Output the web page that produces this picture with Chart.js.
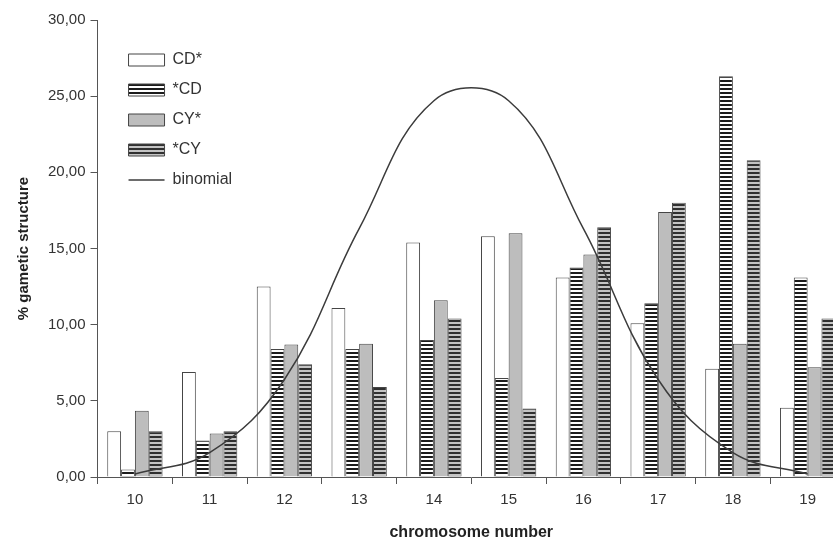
<!DOCTYPE html>
<html>
<head>
<meta charset="utf-8">
<script src="https://cdn.jsdelivr.net/npm/chart.js@4.4.1/dist/chart.umd.min.js"></script>
<style>
    html, body { margin: 0; padding: 0; overflow: hidden; background: #fff; }
</style>
</head>
<body>
<canvas id="chart" width="850" height="541"></canvas>
<script>
// chromosome classes on the x axis
const chromosomes = ["10", "11", "12", "13", "14", "15", "16", "17", "18", "19"];

// % gametic structure per series
const cdStar = [3.0, 6.9, 12.5, 11.1, 15.4, 15.8, 13.1, 10.1, 7.1, 4.55];
const starCd = [0.5, 2.4, 8.4, 8.4, 9.0, 6.5, 13.75, 11.4, 26.3, 13.1];
const cyStar = [4.35, 2.85, 8.7, 8.75, 11.6, 16.0, 14.6, 17.4, 8.75, 7.2];
const starCy = [3.0, 3.0, 7.4, 5.9, 10.4, 4.5, 16.4, 18.0, 20.8, 10.4];
const binomial = [0.2, 1.6, 6.4, 16.3, 24.7, 24.7, 16.3, 6.4, 1.6, 0.2];

const seriesLabels = ["CD*", "*CD", "CY*", "*CY", "binomial"];

const FONT = "'Liberation Sans', Arial, sans-serif";

/*
    Horizontal stripe fill used by the hatched bars
*/
function stripes(bg, line) {
    const c = document.createElement("canvas");
    c.width = 4;
    c.height = 4;
    const g = c.getContext("2d");
    g.fillStyle = bg;
    g.fillRect(0, 0, 4, 4);
    g.fillStyle = line;
    g.fillRect(0, 0, 4, 2);
    return g.createPattern(c, "repeat");
}

function barSet(label, data, fill) {
    return {
        type: "bar",
        label: label,
        data: data,
        backgroundColor: fill,
        borderColor: "#454545",
        borderWidth: 1,
        pointStyle: "rect",
        order: 1
    };
}

// moves the legend into the upper left corner of the plot
const legendPlace = {
    id: "legendPlace",
    afterLayout(chart) {
        chart.legend.left = chart.chartArea.left + 17;
        chart.legend.top = chart.chartArea.top + 18;
    }
};

const ctx = document.getElementById("chart");
new Chart(ctx, {
    data: {
        labels: chromosomes,
        datasets: [
            barSet(seriesLabels[0], cdStar, "#ffffff"),
            barSet(seriesLabels[1], starCd, stripes("#ffffff", "#1c1c1c")),
            barSet(seriesLabels[2], cyStar, "#bdbdbd"),
            barSet(seriesLabels[3], starCy, stripes("#c4c4c4", "#303030")),
            {
                type: "line",
                label: seriesLabels[4],
                data: binomial,
                borderColor: "#3c3c3c",
                borderWidth: 1.5,
                pointRadius: 0,
                pointStyle: "line",
                tension: 0.4,
                fill: false,
                order: 0
            }
        ]
    },
    options: {
        responsive: false,
        animation: false,
        layout: { padding: { left: 0, right: 5, top: 20, bottom: 0 } },
        datasets: { bar: { categoryPercentage: 0.74, barPercentage: 1.0 } },
        plugins: {
            tooltip: { enabled: false },
            legend: {
                position: "chartArea",
                align: "start",
                labels: {
                    usePointStyle: true,
                    pointStyleWidth: 36,
                    boxHeight: 12,
                    padding: 14,
                    color: "#333",
                    font: { family: FONT, size: 16 },
                    sort: (a, b) => a.datasetIndex - b.datasetIndex
                }
            }
        },
        scales: {
            x: {
                grid: { drawOnChartArea: false, tickLength: 7, color: "#555" },
                border: { color: "#555" },
                ticks: { color: "#333", padding: 7, font: { family: FONT, size: 15 } },
                title: {
                    display: true,
                    text: "chromosome number",
                    color: "#222",
                    padding: { top: 9, bottom: 0 },
                    font: { family: FONT, size: 16, weight: "bold", lineHeight: 1 }
                }
            },
            y: {
                min: 0,
                max: 30,
                grid: { drawOnChartArea: false, tickLength: 7, color: "#555" },
                border: { color: "#555" },
                ticks: {
                    stepSize: 5,
                    padding: 5,
                    color: "#333",
                    font: { family: FONT, size: 15 },
                    callback: (v) => v.toFixed(2).replace(".", ",")
                },
                title: {
                    display: true,
                    text: "% gametic structure",
                    color: "#222",
                    padding: { top: 15, bottom: 10 },
                    font: { family: FONT, size: 15, weight: "bold" }
                }
            }
        }
    },
    plugins: [legendPlace]
});
</script>
</body>
</html>
